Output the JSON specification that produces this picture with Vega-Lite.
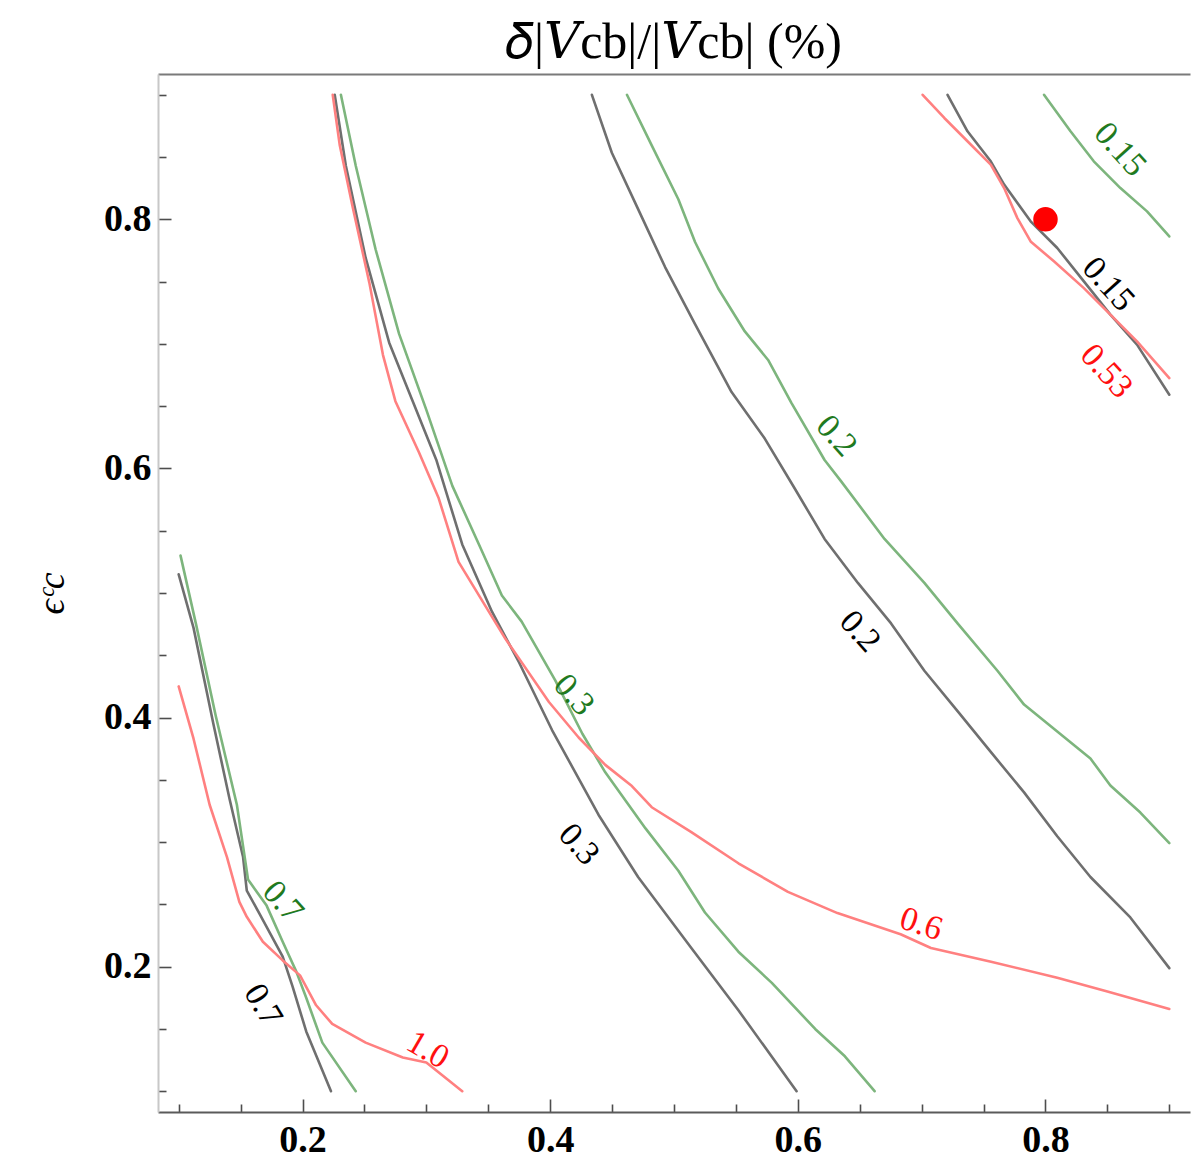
{
  "$schema": "https://vega.github.io/schema/vega-lite/v6.json",
  "width": 1032,
  "height": 1038,
  "autosize": {"type": "none"},
  "padding": {"left": 158, "top": 74, "right": 9, "bottom": 55},
  "background": "white",
  "title": {
    "text": "𝛿|𝑉cb|/|𝑉cb| (%)",
    "font": "'Liberation Serif', 'DejaVu Serif', serif",
    "fontSize": 50,
    "fontWeight": "normal",
    "color": "#000000",
    "anchor": "middle",
    "offset": 6
  },
  "config": {"view": {"stroke": null}},
  "datasets": {
    "curves": [
      {"series": "gray", "level": "0.7", "x": 0.100, "y": 0.515},
      {"series": "gray", "level": "0.7", "x": 0.112, "y": 0.472},
      {"series": "gray", "level": "0.7", "x": 0.128, "y": 0.395},
      {"series": "gray", "level": "0.7", "x": 0.141, "y": 0.335},
      {"series": "gray", "level": "0.7", "x": 0.152, "y": 0.288},
      {"series": "gray", "level": "0.7", "x": 0.155, "y": 0.261},
      {"series": "gray", "level": "0.7", "x": 0.165, "y": 0.243},
      {"series": "gray", "level": "0.7", "x": 0.184, "y": 0.208},
      {"series": "gray", "level": "0.7", "x": 0.192, "y": 0.184},
      {"series": "gray", "level": "0.7", "x": 0.203, "y": 0.148},
      {"series": "gray", "level": "0.7", "x": 0.223, "y": 0.100},

      {"series": "green", "level": "0.7", "x": 0.1015, "y": 0.530},
      {"series": "green", "level": "0.7", "x": 0.114, "y": 0.475},
      {"series": "green", "level": "0.7", "x": 0.130, "y": 0.401},
      {"series": "green", "level": "0.7", "x": 0.147, "y": 0.330},
      {"series": "green", "level": "0.7", "x": 0.156, "y": 0.270},
      {"series": "green", "level": "0.7", "x": 0.171, "y": 0.249},
      {"series": "green", "level": "0.7", "x": 0.184, "y": 0.220},
      {"series": "green", "level": "0.7", "x": 0.195, "y": 0.196},
      {"series": "green", "level": "0.7", "x": 0.203, "y": 0.175},
      {"series": "green", "level": "0.7", "x": 0.216, "y": 0.139},
      {"series": "green", "level": "0.7", "x": 0.243, "y": 0.100},

      {"series": "red", "level": "1.0", "x": 0.100, "y": 0.425},
      {"series": "red", "level": "1.0", "x": 0.112, "y": 0.383},
      {"series": "red", "level": "1.0", "x": 0.125, "y": 0.330},
      {"series": "red", "level": "1.0", "x": 0.139, "y": 0.288},
      {"series": "red", "level": "1.0", "x": 0.149, "y": 0.252},
      {"series": "red", "level": "1.0", "x": 0.155, "y": 0.240},
      {"series": "red", "level": "1.0", "x": 0.168, "y": 0.220},
      {"series": "red", "level": "1.0", "x": 0.184, "y": 0.205},
      {"series": "red", "level": "1.0", "x": 0.198, "y": 0.193},
      {"series": "red", "level": "1.0", "x": 0.211, "y": 0.169},
      {"series": "red", "level": "1.0", "x": 0.224, "y": 0.154},
      {"series": "red", "level": "1.0", "x": 0.251, "y": 0.139},
      {"series": "red", "level": "1.0", "x": 0.281, "y": 0.127},
      {"series": "red", "level": "1.0", "x": 0.300, "y": 0.123},
      {"series": "red", "level": "1.0", "x": 0.329, "y": 0.100},

      {"series": "gray", "level": "0.3", "x": 0.226, "y": 0.900},
      {"series": "gray", "level": "0.3", "x": 0.235, "y": 0.843},
      {"series": "gray", "level": "0.3", "x": 0.251, "y": 0.769},
      {"series": "gray", "level": "0.3", "x": 0.270, "y": 0.701},
      {"series": "gray", "level": "0.3", "x": 0.289, "y": 0.654},
      {"series": "gray", "level": "0.3", "x": 0.308, "y": 0.607},
      {"series": "gray", "level": "0.3", "x": 0.329, "y": 0.539},
      {"series": "gray", "level": "0.3", "x": 0.353, "y": 0.485},
      {"series": "gray", "level": "0.3", "x": 0.375, "y": 0.444},
      {"series": "gray", "level": "0.3", "x": 0.4015, "y": 0.390},
      {"series": "gray", "level": "0.3", "x": 0.439, "y": 0.322},
      {"series": "gray", "level": "0.3", "x": 0.471, "y": 0.272},
      {"series": "gray", "level": "0.3", "x": 0.514, "y": 0.215},
      {"series": "gray", "level": "0.3", "x": 0.552, "y": 0.165},
      {"series": "gray", "level": "0.3", "x": 0.599, "y": 0.100},

      {"series": "green", "level": "0.3", "x": 0.231, "y": 0.900},
      {"series": "green", "level": "0.3", "x": 0.243, "y": 0.843},
      {"series": "green", "level": "0.3", "x": 0.259, "y": 0.776},
      {"series": "green", "level": "0.3", "x": 0.278, "y": 0.708},
      {"series": "green", "level": "0.3", "x": 0.300, "y": 0.647},
      {"series": "green", "level": "0.3", "x": 0.321, "y": 0.586},
      {"series": "green", "level": "0.3", "x": 0.3425, "y": 0.539},
      {"series": "green", "level": "0.3", "x": 0.361, "y": 0.498},
      {"series": "green", "level": "0.3", "x": 0.377, "y": 0.477},
      {"series": "green", "level": "0.3", "x": 0.404, "y": 0.430},
      {"series": "green", "level": "0.3", "x": 0.426, "y": 0.387},
      {"series": "green", "level": "0.3", "x": 0.4445, "y": 0.356},
      {"series": "green", "level": "0.3", "x": 0.477, "y": 0.311},
      {"series": "green", "level": "0.3", "x": 0.5035, "y": 0.277},
      {"series": "green", "level": "0.3", "x": 0.525, "y": 0.2435},
      {"series": "green", "level": "0.3", "x": 0.552, "y": 0.212},
      {"series": "green", "level": "0.3", "x": 0.579, "y": 0.187},
      {"series": "green", "level": "0.3", "x": 0.614, "y": 0.150},
      {"series": "green", "level": "0.3", "x": 0.638, "y": 0.128},
      {"series": "green", "level": "0.3", "x": 0.662, "y": 0.100},

      {"series": "red", "level": "0.6", "x": 0.2244, "y": 0.900},
      {"series": "red", "level": "0.6", "x": 0.230, "y": 0.860},
      {"series": "red", "level": "0.6", "x": 0.2405, "y": 0.810},
      {"series": "red", "level": "0.6", "x": 0.254, "y": 0.749},
      {"series": "red", "level": "0.6", "x": 0.265, "y": 0.691},
      {"series": "red", "level": "0.6", "x": 0.275, "y": 0.654},
      {"series": "red", "level": "0.6", "x": 0.294, "y": 0.613},
      {"series": "red", "level": "0.6", "x": 0.310, "y": 0.576},
      {"series": "red", "level": "0.6", "x": 0.326, "y": 0.525},
      {"series": "red", "level": "0.6", "x": 0.364, "y": 0.463},
      {"series": "red", "level": "0.6", "x": 0.399, "y": 0.4125},
      {"series": "red", "level": "0.6", "x": 0.423, "y": 0.384},
      {"series": "red", "level": "0.6", "x": 0.4445, "y": 0.362},
      {"series": "red", "level": "0.6", "x": 0.466, "y": 0.345},
      {"series": "red", "level": "0.6", "x": 0.482, "y": 0.328},
      {"series": "red", "level": "0.6", "x": 0.514, "y": 0.308},
      {"series": "red", "level": "0.6", "x": 0.552, "y": 0.283},
      {"series": "red", "level": "0.6", "x": 0.592, "y": 0.260},
      {"series": "red", "level": "0.6", "x": 0.632, "y": 0.243},
      {"series": "red", "level": "0.6", "x": 0.683, "y": 0.226},
      {"series": "red", "level": "0.6", "x": 0.7075, "y": 0.215},
      {"series": "red", "level": "0.6", "x": 0.756, "y": 0.204},
      {"series": "red", "level": "0.6", "x": 0.8095, "y": 0.191},
      {"series": "red", "level": "0.6", "x": 0.850, "y": 0.180},
      {"series": "red", "level": "0.6", "x": 0.900, "y": 0.166},

      {"series": "gray", "level": "0.2", "x": 0.4337, "y": 0.900},
      {"series": "gray", "level": "0.2", "x": 0.4498, "y": 0.8535},
      {"series": "gray", "level": "0.2", "x": 0.4713, "y": 0.8076},
      {"series": "gray", "level": "0.2", "x": 0.4928, "y": 0.7617},
      {"series": "gray", "level": "0.2", "x": 0.517, "y": 0.7158},
      {"series": "gray", "level": "0.2", "x": 0.5465, "y": 0.6613},
      {"series": "gray", "level": "0.2", "x": 0.5733, "y": 0.624},
      {"series": "gray", "level": "0.2", "x": 0.5975, "y": 0.5839},
      {"series": "gray", "level": "0.2", "x": 0.6216, "y": 0.5434},
      {"series": "gray", "level": "0.2", "x": 0.6485, "y": 0.5081},
      {"series": "gray", "level": "0.2", "x": 0.6753, "y": 0.4756},
      {"series": "gray", "level": "0.2", "x": 0.7022, "y": 0.4376},
      {"series": "gray", "level": "0.2", "x": 0.729, "y": 0.4051},
      {"series": "gray", "level": "0.2", "x": 0.7558, "y": 0.3724},
      {"series": "gray", "level": "0.2", "x": 0.7827, "y": 0.3399},
      {"series": "gray", "level": "0.2", "x": 0.8095, "y": 0.3047},
      {"series": "gray", "level": "0.2", "x": 0.8363, "y": 0.272},
      {"series": "gray", "level": "0.2", "x": 0.8685, "y": 0.2395},
      {"series": "gray", "level": "0.2", "x": 0.900, "y": 0.1988},

      {"series": "green", "level": "0.2", "x": 0.462, "y": 0.900},
      {"series": "green", "level": "0.2", "x": 0.4821, "y": 0.8592},
      {"series": "green", "level": "0.2", "x": 0.5035, "y": 0.8161},
      {"series": "green", "level": "0.2", "x": 0.517, "y": 0.7818},
      {"series": "green", "level": "0.2", "x": 0.5357, "y": 0.7445},
      {"series": "green", "level": "0.2", "x": 0.5572, "y": 0.710},
      {"series": "green", "level": "0.2", "x": 0.576, "y": 0.6871},
      {"series": "green", "level": "0.2", "x": 0.5948, "y": 0.6527},
      {"series": "green", "level": "0.2", "x": 0.6216, "y": 0.6068},
      {"series": "green", "level": "0.2", "x": 0.635, "y": 0.5896},
      {"series": "green", "level": "0.2", "x": 0.670, "y": 0.5434},
      {"series": "green", "level": "0.2", "x": 0.7022, "y": 0.5081},
      {"series": "green", "level": "0.2", "x": 0.729, "y": 0.4756},
      {"series": "green", "level": "0.2", "x": 0.7612, "y": 0.4376},
      {"series": "green", "level": "0.2", "x": 0.7827, "y": 0.4104},
      {"series": "green", "level": "0.2", "x": 0.8095, "y": 0.3888},
      {"series": "green", "level": "0.2", "x": 0.8363, "y": 0.3671},
      {"series": "green", "level": "0.2", "x": 0.8524, "y": 0.3454},
      {"series": "green", "level": "0.2", "x": 0.8766, "y": 0.3237},
      {"series": "green", "level": "0.2", "x": 0.900, "y": 0.2992},

      {"series": "gray", "level": "0.15", "x": 0.7209, "y": 0.900},
      {"series": "gray", "level": "0.15", "x": 0.737, "y": 0.8707},
      {"series": "gray", "level": "0.15", "x": 0.7558, "y": 0.8466},
      {"series": "gray", "level": "0.15", "x": 0.7666, "y": 0.8279},
      {"series": "gray", "level": "0.15", "x": 0.788, "y": 0.7984},
      {"series": "gray", "level": "0.15", "x": 0.8095, "y": 0.777},
      {"series": "gray", "level": "0.15", "x": 0.831, "y": 0.7502},
      {"series": "gray", "level": "0.15", "x": 0.8524, "y": 0.7235},
      {"series": "gray", "level": "0.15", "x": 0.8739, "y": 0.6994},
      {"series": "gray", "level": "0.15", "x": 0.900, "y": 0.6592},

      {"series": "red", "level": "0.53", "x": 0.7008, "y": 0.900},
      {"series": "red", "level": "0.53", "x": 0.7183, "y": 0.8814},
      {"series": "red", "level": "0.53", "x": 0.737, "y": 0.8627},
      {"series": "red", "level": "0.53", "x": 0.7558, "y": 0.8439},
      {"series": "red", "level": "0.53", "x": 0.7666, "y": 0.8251},
      {"series": "red", "level": "0.53", "x": 0.7773, "y": 0.801},
      {"series": "red", "level": "0.53", "x": 0.788, "y": 0.7823},
      {"series": "red", "level": "0.53", "x": 0.8068, "y": 0.7663},
      {"series": "red", "level": "0.53", "x": 0.831, "y": 0.7448},
      {"series": "red", "level": "0.53", "x": 0.8524, "y": 0.7235},
      {"series": "red", "level": "0.53", "x": 0.8739, "y": 0.702},
      {"series": "red", "level": "0.53", "x": 0.900, "y": 0.6726},

      {"series": "green", "level": "0.15", "x": 0.7988, "y": 0.900},
      {"series": "green", "level": "0.15", "x": 0.8202, "y": 0.8707},
      {"series": "green", "level": "0.15", "x": 0.839, "y": 0.8466},
      {"series": "green", "level": "0.15", "x": 0.8605, "y": 0.8251},
      {"series": "green", "level": "0.15", "x": 0.882, "y": 0.8064},
      {"series": "green", "level": "0.15", "x": 0.900, "y": 0.7863}
    ],
    "contourLabels": [
      {"series": "green", "text": "0.15", "x": 0.860, "y": 0.856},
      {"series": "gray", "text": "0.15", "x": 0.8506, "y": 0.7478},
      {"series": "red", "text": "0.53", "x": 0.849, "y": 0.678},
      {"series": "green", "text": "0.2", "x": 0.631, "y": 0.626},
      {"series": "gray", "text": "0.2", "x": 0.650, "y": 0.469},
      {"series": "green", "text": "0.3", "x": 0.419, "y": 0.418},
      {"series": "gray", "text": "0.3", "x": 0.423, "y": 0.298},
      {"series": "green", "text": "0.7", "x": 0.184, "y": 0.252},
      {"series": "gray", "text": "0.7", "x": 0.168, "y": 0.169},
      {"series": "red", "text": "1.0", "x": 0.301, "y": 0.133},
      {"series": "red", "text": "0.6", "x": 0.6995, "y": 0.234}
    ],
    "marker": [{"x": 0.8, "y": 0.8}]
  },
  "resolve": {"axis": {"x": "independent", "y": "independent"}},
  "layer": [
    {
      "data": {"name": "curves"},
      "mark": {"type": "line", "strokeWidth": 2.6, "strokeCap": "round", "strokeJoin": "round"},
      "encoding": {
        "x": {
          "field": "x", "type": "quantitative",
          "scale": {"domain": [0.0833, 0.9167], "nice": false, "zero": false},
          "axis": {
            "orient": "bottom",
            "values": [0.1, 0.15, 0.2, 0.25, 0.3, 0.35, 0.4, 0.45, 0.5, 0.55, 0.6, 0.65, 0.7, 0.75, 0.8, 0.85, 0.9],
            "labelExpr": "round(datum.value*20) % 4 == 0 ? format(datum.value, '.1f') : ''",
            "labelOverlap": false,
            "labelFlush": false,
            "tickSize": {"condition": {"test": "round(datum.value*20) % 4 == 0", "value": -13}, "value": -8},
            "tickColor": "#4d4d4d",
            "tickWidth": 1.6,
            "domainColor": "#5a5a5a",
            "domainWidth": 2,
            "labelFont": "Liberation Serif",
            "labelFontWeight": "bold",
            "labelFontSize": 38,
            "labelColor": "#000000",
            "labelPadding": 22,
            "grid": false,
            "title": null
          }
        },
        "y": {
          "field": "y", "type": "quantitative",
          "scale": {"domain": [0.0833, 0.9167], "nice": false, "zero": false},
          "axis": {
            "orient": "left",
            "values": [0.1, 0.15, 0.2, 0.25, 0.3, 0.35, 0.4, 0.45, 0.5, 0.55, 0.6, 0.65, 0.7, 0.75, 0.8, 0.85, 0.9],
            "labelExpr": "round(datum.value*20) % 4 == 0 ? format(datum.value, '.1f') : ''",
            "labelOverlap": false,
            "labelFlush": false,
            "tickSize": {"condition": {"test": "round(datum.value*20) % 4 == 0", "value": -13}, "value": -8},
            "tickColor": "#4d4d4d",
            "tickWidth": 1.6,
            "domainColor": "#c8c8c8",
            "domainWidth": 2,
            "labelFont": "Liberation Serif",
            "labelFontWeight": "bold",
            "labelFontSize": 38,
            "labelColor": "#000000",
            "labelPadding": 20,
            "grid": false,
            "title": "ϵᶜc",
            "titleFont": "Liberation Serif",
            "titleFontStyle": "italic",
            "titleFontWeight": "normal",
            "titleFontSize": 38,
            "titleColor": "#000000",
            "titlePadding": 32
          }
        },
        "stroke": {
          "field": "series", "type": "nominal",
          "scale": {"domain": ["gray", "green", "red"], "range": ["#6f6f6f", "#7db57d", "#ff8080"]},
          "legend": null
        },
        "detail": [{"field": "series"}, {"field": "level"}]
      }
    },
    {
      "data": {"name": "contourLabels"},
      "transform": [{"filter": "datum.text == '0.6'"}],
      "mark": {"type": "text", "font": "Liberation Serif", "fontSize": 34, "angle": 18, "align": "center", "baseline": "middle"},
      "encoding": {
        "x": {"field": "x", "type": "quantitative", "axis": null},
        "y": {"field": "y", "type": "quantitative", "axis": null},
        "text": {"field": "text"},
        "color": {"field": "series", "type": "nominal", "scale": {"domain": ["gray", "green", "red"], "range": ["#000000", "#1f7a1f", "#ff1010"]}, "legend": null}
      }
    },
    {
      "data": {"name": "contourLabels"},
      "transform": [{"filter": "datum.text == '1.0'"}],
      "mark": {"type": "text", "font": "Liberation Serif", "fontSize": 34, "angle": 30, "align": "center", "baseline": "middle"},
      "encoding": {
        "x": {"field": "x", "type": "quantitative", "axis": null},
        "y": {"field": "y", "type": "quantitative", "axis": null},
        "text": {"field": "text"},
        "color": {"field": "series", "type": "nominal", "scale": {"domain": ["gray", "green", "red"], "range": ["#000000", "#1f7a1f", "#ff1010"]}, "legend": null}
      }
    },
    {
      "data": {"name": "contourLabels"},
      "transform": [{"filter": "datum.text == '0.7' && datum.series == 'gray'"}],
      "mark": {"type": "text", "font": "Liberation Serif", "fontSize": 34, "angle": 59, "align": "center", "baseline": "middle"},
      "encoding": {
        "x": {"field": "x", "type": "quantitative", "axis": null},
        "y": {"field": "y", "type": "quantitative", "axis": null},
        "text": {"field": "text"},
        "color": {"field": "series", "type": "nominal", "scale": {"domain": ["gray", "green", "red"], "range": ["#000000", "#1f7a1f", "#ff1010"]}, "legend": null}
      }
    },
    {
      "data": {"name": "contourLabels"},
      "transform": [{"filter": "datum.text != '0.6' && datum.text != '1.0' && !(datum.text == '0.7' && datum.series == 'gray')"}],
      "mark": {"type": "text", "font": "Liberation Serif", "fontSize": 34, "angle": 48, "align": "center", "baseline": "middle"},
      "encoding": {
        "x": {"field": "x", "type": "quantitative", "axis": null},
        "y": {"field": "y", "type": "quantitative", "axis": null},
        "text": {"field": "text"},
        "color": {"field": "series", "type": "nominal", "scale": {"domain": ["gray", "green", "red"], "range": ["#000000", "#1f7a1f", "#ff1010"]}, "legend": null}
      }
    },
    {
      "data": {"name": "marker"},
      "mark": {"type": "circle", "size": 600, "color": "#ff0000", "opacity": 1},
      "encoding": {
        "x": {
          "field": "x", "type": "quantitative",
          "axis": {"orient": "top", "labels": false, "ticks": false, "domainColor": "#7a7a7a", "domainWidth": 2, "grid": false, "title": null}
        },
        "y": {"field": "y", "type": "quantitative", "axis": null}
      }
    }
  ]
}
